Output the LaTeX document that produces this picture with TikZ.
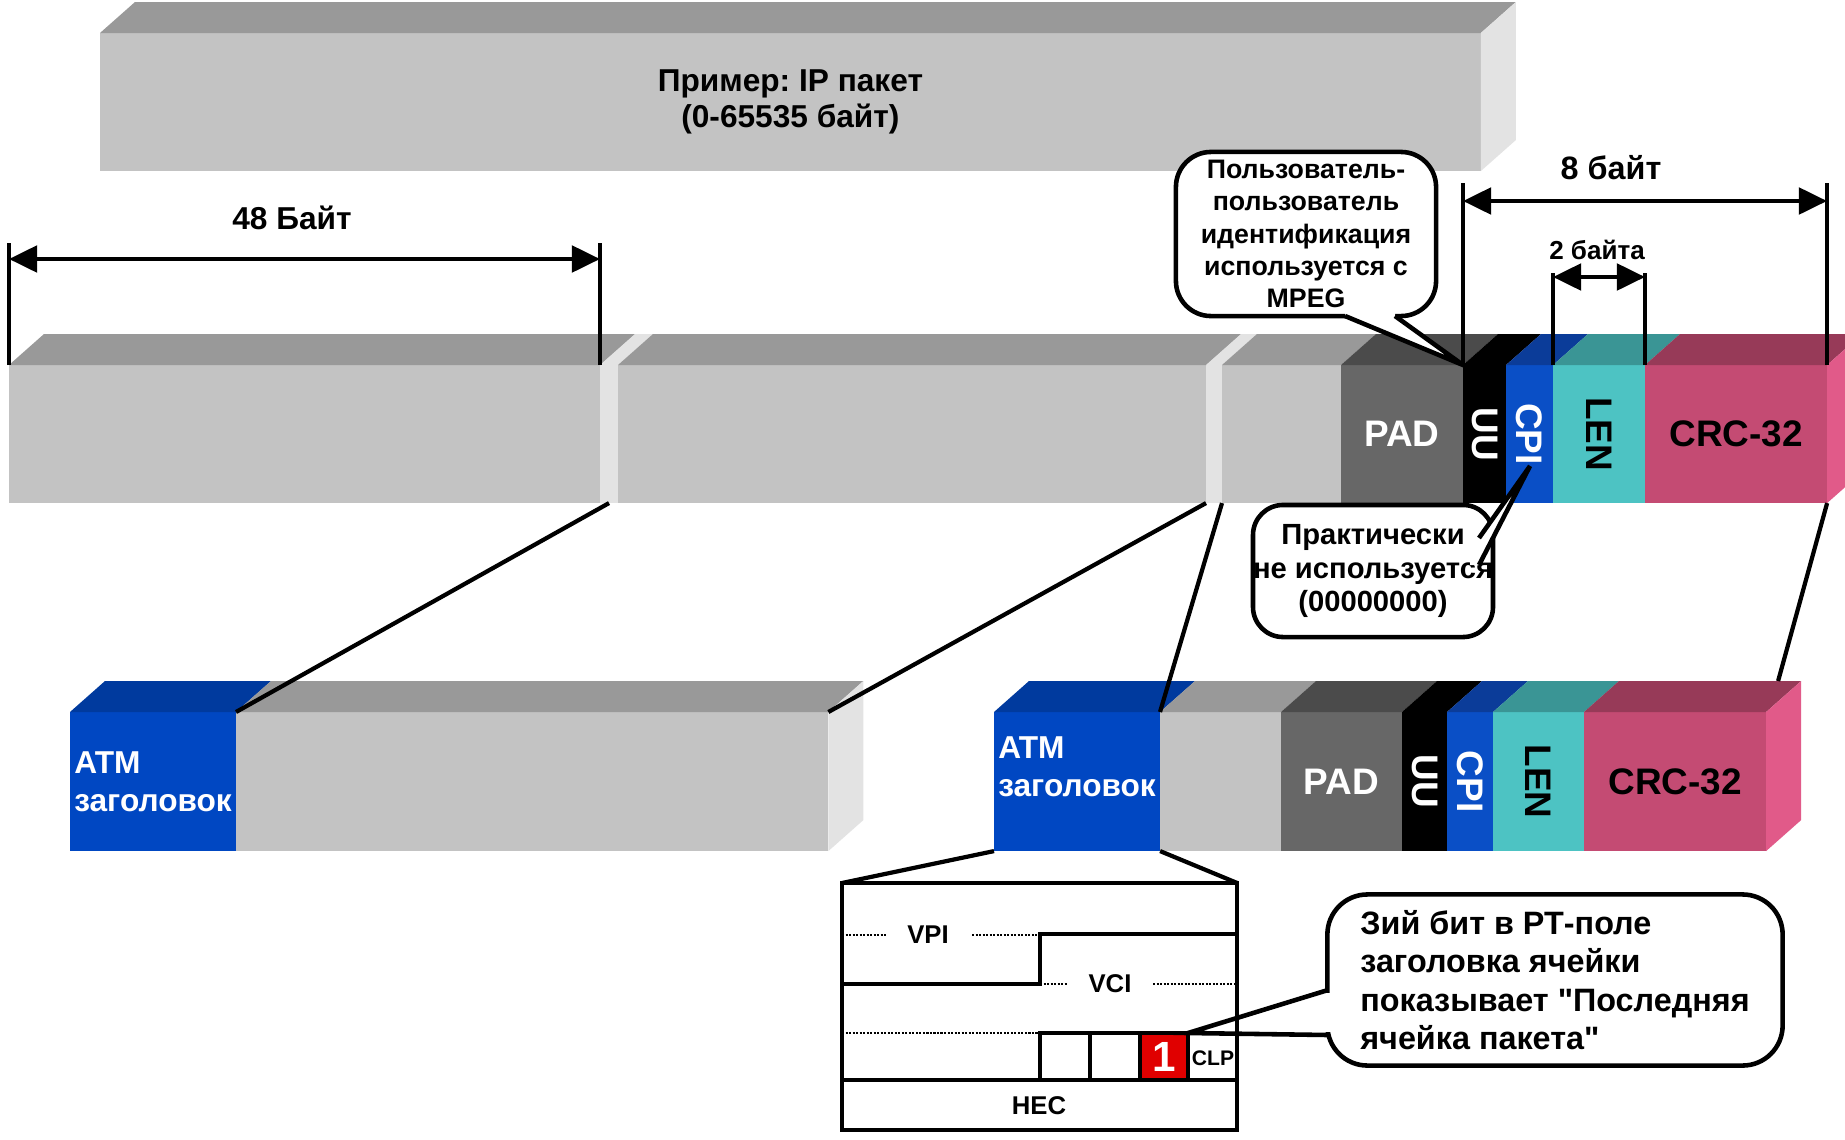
\documentclass[tikz,border=0pt]{standalone}
\usepackage{fontspec}
\setmainfont{Liberation Sans}[Ligatures=TeXOff]
\usepackage{graphicx}
\usetikzlibrary{arrows.meta}
\frenchspacing

\definecolor{cellgray}{HTML}{C3C3C3}
\definecolor{topgray}{HTML}{999999}
\definecolor{gapgray}{HTML}{E3E3E3}
\definecolor{padgray}{HTML}{676767}
\definecolor{padtop}{HTML}{4B4B4B}
\definecolor{cpiblue}{HTML}{0A4FC6}
\definecolor{cpitop}{HTML}{0B3C99}
\definecolor{lencyan}{HTML}{4DC3C3}
\definecolor{lentop}{HTML}{3A9595}
\definecolor{crcred}{HTML}{C44B73}
\definecolor{crctop}{HTML}{973A58}
\definecolor{crcside}{HTML}{E15A89}
\definecolor{atmblue}{HTML}{0047C2}
\definecolor{atmtop}{HTML}{003A9E}
\definecolor{bitred}{HTML}{E00000}

% 3D look of a block: top and right faces
\newcommand{\topface}[2]{\fill[#2] (#1.north west) -- ++(35,-31) -- ([shift={(35,-31)}]#1.north east) -- (#1.north east) -- cycle;}
\newcommand{\sideface}[2]{\fill[#2] (#1.north east) -- ++(35,-31) -- ([shift={(35,-31)}]#1.south east) -- (#1.south east) -- cycle;}

\begin{document}
\begin{tikzpicture}[
    x=0.01cm, y=-0.01cm,
    face/.style={rectangle, inner sep=0pt, outer sep=0pt, anchor=north west, minimum height=1.38cm, font=\fontsize{10.5}{12}\selectfont\bfseries},
    atm/.style={face, fill=atmblue, text=white, align=left, minimum width=1.66cm, minimum height=1.39cm, font=\fontsize{9}{10.8}\selectfont\bfseries},
    bubble/.style={draw, line width=1.3pt, fill=white, inner sep=0pt, outer sep=0pt, align=center},
    tail/.style={line width=1.3pt, line join=miter},
    link/.style={line width=1.2pt},
    dim/.style={line width=1.2pt},
    dimarrow/.style={line width=1.2pt, {Triangle[length=8pt,width=7.5pt]}-{Triangle[length=8pt,width=7.5pt]}},
    dimlabel/.style={font=\fontsize{9}{10}\selectfont\bfseries},
    field/.style={line width=1.1pt},
    dots/.style={line width=0.6pt, dash pattern=on 0.6pt off 0.4pt},
    fieldlabel/.style={font=\fontsize{7.3}{8}\selectfont\bfseries, inner sep=1pt},
    bitbox/.style={draw, line width=1.1pt, fill=bitred, text=white, inner sep=0pt, outer sep=0pt, anchor=north west, minimum width=0.48cm, minimum height=0.47cm, font=\fontsize{12}{12}\selectfont\bfseries}
]
\useasboundingbox (0,0) rectangle (1845,1139);
\clip (0,0) rectangle (1845,1139);
\fill[white] (0,0) rectangle (1845,1139);

% IP packet
\node[face, fill=cellgray, minimum width=13.80cm, align=center, font=\fontsize{9}{10.2}\selectfont\bfseries] (ip) at (100,33) {Пример: IP пакет\\(0-65535 байт)};
\topface{ip}{topgray}
\sideface{ip}{gapgray}

% AAL5 frame cut into 48 byte pieces
\node[face, fill=cellgray, minimum width=5.91cm] (seg1) at (9,365) {};
\node[face, fill=gapgray, minimum width=0.18cm] (gap1) at (600,365) {};
\node[face, fill=cellgray, minimum width=5.88cm] (seg2) at (618,365) {};
\node[face, fill=gapgray, minimum width=0.16cm] (gap2) at (1206,365) {};
\node[face, fill=cellgray, minimum width=1.19cm] (seg3) at (1222,365) {};
\node[face, fill=padgray, text=white, minimum width=1.22cm] (pad1) at (1341,365) {PAD};
\node[face, fill=black, text=white, minimum width=0.43cm] (uu1) at (1463,365) {\rotatebox{-90}{UU}};
\node[face, fill=cpiblue, text=white, minimum width=0.47cm] (cpi1) at (1506,365) {\rotatebox{-90}{CPI}};
\node[face, fill=lencyan, minimum width=0.92cm] (len1) at (1553,365) {\rotatebox{-90}{LEN}};
\node[face, fill=crcred, minimum width=1.82cm] (crc1) at (1645,365) {CRC-32};
\topface{seg1}{topgray}
\topface{gap1}{gapgray}
\topface{seg2}{topgray}
\topface{gap2}{gapgray}
\topface{seg3}{topgray}
\topface{pad1}{padtop}
\topface{uu1}{black}
\topface{cpi1}{cpitop}
\topface{len1}{lentop}
\topface{crc1}{crctop}
\sideface{crc1}{crcside}

% Cells
\node[atm] (atmA) at (70,712) {ATM\\заголовок};
\node[face, fill=cellgray, minimum width=5.92cm, minimum height=1.39cm] (dataA) at (236,712) {};
\topface{atmA}{atmtop}
\topface{dataA}{topgray}
\sideface{dataA}{gapgray}

\node[atm] (atmB) at (994,712) {ATM\\заголовок\\[-2.2pt]\mbox{}};
\node[face, fill=cellgray, minimum width=1.21cm, minimum height=1.39cm] (dataB) at (1160,712) {};
\node[face, fill=padgray, text=white, minimum width=1.21cm, minimum height=1.39cm] (pad2) at (1281,712) {PAD};
\node[face, fill=black, text=white, minimum width=0.45cm, minimum height=1.39cm] (uu2) at (1402,712) {\rotatebox{-90}{UU}};
\node[face, fill=cpiblue, text=white, minimum width=0.46cm, minimum height=1.39cm] (cpi2) at (1447,712) {\rotatebox{-90}{CPI}};
\node[face, fill=lencyan, minimum width=0.91cm, minimum height=1.39cm] (len2) at (1493,712) {\rotatebox{-90}{LEN}};
\node[face, fill=crcred, minimum width=1.82cm, minimum height=1.39cm] (crc2) at (1584,712) {CRC-32};
\topface{atmB}{atmtop}
\topface{dataB}{topgray}
\topface{pad2}{padtop}
\topface{uu2}{black}
\topface{cpi2}{cpitop}
\topface{len2}{lentop}
\topface{crc2}{crctop}
\sideface{crc2}{crcside}

% Connections
\coordinate (crc2back) at ([shift={(12,-31)}]crc2.north east);
\draw[link] (gap1.south) -- (dataA.north west);
\draw[link] (gap2.south west) -- (dataA.north east);
\draw[link] (gap2.south east) -- (dataB.north west);
\draw[link] (crc1.south east) -- (crc2back);

% Sizes
\draw[dim] (seg1.north west) -- ++(0,-122);
\draw[dim] (seg1.north east) -- ++(0,-122);
\coordinate (d48l) at (9,259);
\coordinate (d48r) at (600,259);
\draw[dimarrow] (d48l) -- (d48r);
\node[dimlabel] (lbl48) at (292,218) {48 Байт};

\draw[dim] (uu1.north west) -- ++(0,-182);
\draw[dim] (crc1.north east) -- ++(0,-182);
\coordinate (d8l) at (1463,201);
\coordinate (d8r) at (1827,201);
\draw[dimarrow] (d8l) -- (d8r);
\node[dimlabel, font=\fontsize{9.2}{10}\selectfont\bfseries] (lbl8) at (1611,168) {8 байт};

\draw[dim] (len1.north west) -- ++(0,-92);
\draw[dim] (len1.north east) -- ++(0,-92);
\coordinate (d2l) at (1553,277);
\coordinate (d2r) at (1645,277);
\draw[dimarrow] (d2l) -- (d2r);
\node[dimlabel, font=\fontsize{7.4}{8}\selectfont\bfseries] (lbl2) at (1597,250) {2 байта};

% ATM header fields
\node[draw, line width=1.1pt, inner sep=0pt, outer sep=0pt, anchor=north west, minimum width=3.95cm, minimum height=2.47cm] (hdr) at (842,883) {};
\draw[link] (atmB.south west) -- (hdr.north west);
\draw[link] (atmB.south east) -- (hdr.north east);
\draw[field] (842,984) -- (1040,984) -- (1040,934) -- (1237,934);
\draw[field] (1040,1080) -- (1040,1033) -- (1140,1033);
\draw[field] (1090,1033) -- (1090,1080);
\draw[field] (842,1080) -- (1237,1080);
\draw[dots] (842,935) -- (887,935);
\draw[dots] (972,935) -- (1040,935);
\draw[dots] (1040,984) -- (1068,984);
\draw[dots] (1153,984) -- (1237,984);
\draw[dots] (842,1033) -- (1040,1033);
\node[fieldlabel] (vpi) at (928,935) {VPI};
\node[fieldlabel] (vci) at (1110,984) {VCI};
\node[fieldlabel] (hec) at (1039,1106) {HEC};
\node[fieldlabel, font=\fontsize{6}{7}\selectfont\bfseries] (clp) at (1213,1058) {CLP};
\node[bitbox] (ptbit) at (1140,1033) {1};

% Callouts
\node[bubble, rounded corners=0.35cm, minimum width=2.60cm, minimum height=1.64cm, font=\fontsize{7.6}{9.2}\selectfont\bfseries] (uubub) at (1306,234) {Пользователь-\\пользователь\\идентификация\\используется с\\MPEG};
\fill[white] (1345,306) -- (1345,316) -- (uu1.north west) -- (1395,316) -- (1395,306) -- cycle;
\draw[tail] (1345,316) -- (uu1.north west) -- (1395,316);

\coordinate (cpitip) at (1530,466);
\node[bubble, rounded corners=0.3cm, minimum width=2.12cm, minimum height=1.32cm, font=\fontsize{8.3}{9.6}\selectfont\bfseries] (cpibub) at (1373,571) {Практически\\не используется\\(00000000)};
\fill[white] (1470,538) -- (1479,538) -- (cpitip) -- (1479,565) -- (1470,565) -- cycle;
\draw[tail] (1479,538) -- (cpitip) -- (1479,565);

\node[bubble, rounded corners=0.4cm, align=left, minimum width=4.55cm, minimum height=1.71cm, font=\fontsize{9.2}{10.9}\selectfont\bfseries] (ptbub) at (1555,980) {Зий бит в РТ-поле\\заголовка ячейки\\показывает "Последняя\\ячейка пакета"};
\fill[white] (1322,993) rectangle (1336,1032);
\draw[tail] (1328,990) -- (ptbit.north east) -- (1328,1035);

\end{tikzpicture}
\end{document}
